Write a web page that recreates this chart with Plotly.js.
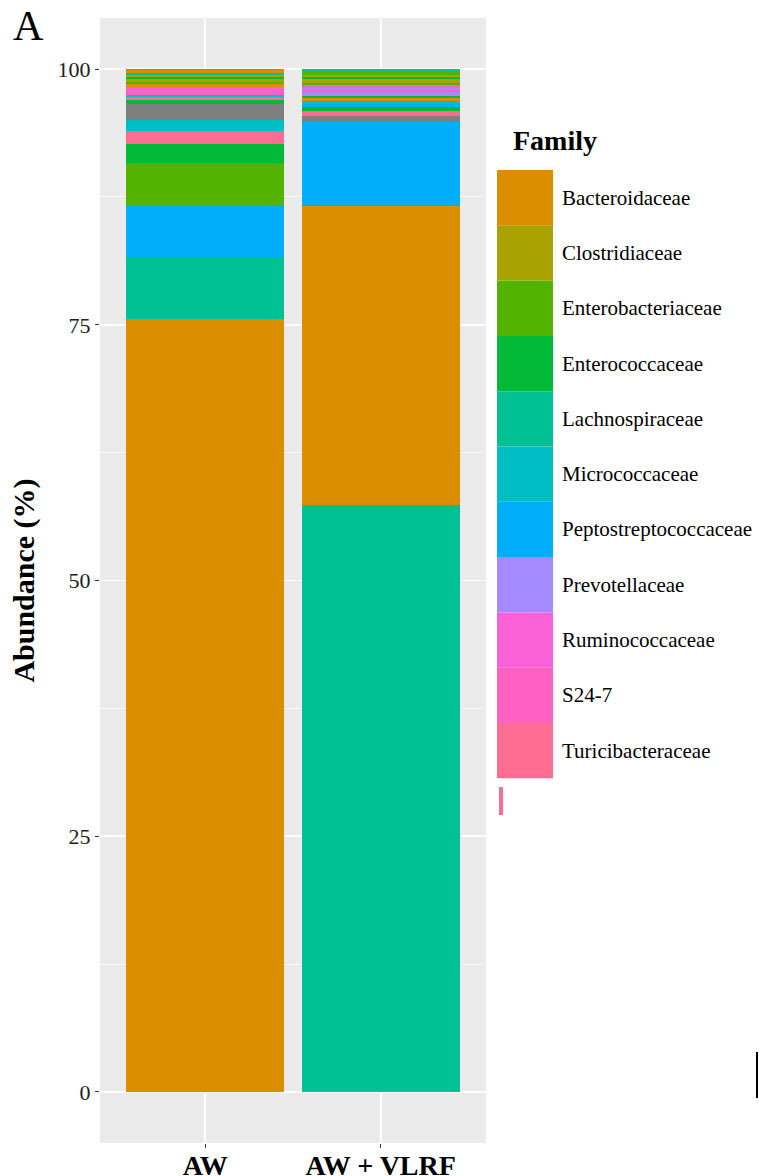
<!DOCTYPE html>
<html><head><meta charset="utf-8">
<script src="https://cdn.plot.ly/plotly-3.0.1.min.js"></script>
<style>html,body{margin:0;padding:0;background:#fff}</style>
</head><body><div id="chart" style="width:759px;height:1176px"></div>
<script>
// ---- data ----
const samples = ['AW', 'AW + VLRF'];
const families = ['Bacteroidaceae','Clostridiaceae','Enterobacteriaceae','Enterococcaceae','Lachnospiraceae','Micrococcaceae','Peptostreptococcaceae','Prevotellaceae','Ruminococcaceae','S24-7','Turicibacteraceae'];
const familyColors = ['#DB8E00','#AAA200','#53B400','#00BA38','#00C094','#00BFC4','#00AEFA','#A58AFF','#FB61D7','#FF61C3','#FF6C91'];
const naColor = '#7F7F7F';
// stacked segments, bottom to top (abundance %)
const awFamilies = ['Bacteroidaceae','Lachnospiraceae','Peptostreptococcaceae','Enterobacteriaceae','Enterococcaceae','Turicibacteraceae','Micrococcaceae','NA','Enterococcaceae','Turicibacteraceae','Micrococcaceae','S24-7','Ruminococcaceae','Bacteroidaceae','Enterobacteriaceae','Clostridiaceae','Enterococcaceae','Clostridiaceae','Lachnospiraceae','Bacteroidaceae','Micrococcaceae'];
const awValues   = [75.54, 6.1, 5.1, 4.1, 1.85, 1.25, 1.1, 1.6, 0.3, 0.35, 0.23, 0.25, 0.5, 0.3, 0.2, 0.23, 0.22, 0.2, 0.22, 0.23, 0.13];
const vlrfFamilies = ['Lachnospiraceae','Bacteroidaceae','Peptostreptococcaceae','NA','Turicibacteraceae','Enterococcaceae','Peptostreptococcaceae','Micrococcaceae','Bacteroidaceae','Enterococcaceae','Prevotellaceae','S24-7','Prevotellaceae','Ruminococcaceae','Enterobacteriaceae','Clostridiaceae','Enterococcaceae','Clostridiaceae','Enterobacteriaceae','Lachnospiraceae'];
const vlrfValues   = [57.4, 29.2, 8.2, 0.65, 0.5, 0.33, 0.33, 0.25, 0.33, 0.23, 0.3, 0.23, 0.25, 0.25, 0.22, 0.33, 0.22, 0.25, 0.33, 0.2];
const yTickVals = [0, 25, 50, 75, 100];
const yTickText = ['0', '25', '50', '75', '100'];

// ---- build ----
const colorOf = f => { const i = families.indexOf(f); return i < 0 ? naColor : familyColors[i]; };
const traces = [];
function addSample(sample, fams, vals) {
  fams.forEach((f, i) => {
    traces.push({
      type: 'bar', x: [sample], y: [vals[i]], name: f, width: 0.9,
      marker: { color: colorOf(f), line: { width: 0 } },
      showlegend: false, hoverinfo: 'name+y'
    });
  });
}
addSample(samples[0], awFamilies, awValues);
addSample(samples[1], vlrfFamilies, vlrfValues);

const W = 759, H = 1176, L = 100, R = 273, T = 18, B = 33;
const pw = W - L - R, ph = H - T - B;
const px = x => (x - L) / pw;
const py = y => (H - B - y) / ph;
const serif = 'Liberation Serif, Times New Roman, serif';

const shapes = [];
const annotations = [];
// manual legend (large ggplot-style keys)
const keyTop = 170, keyH = 55.3, keyX0 = 497, keyX1 = 553;
families.forEach((f, i) => {
  const y0 = keyTop + i * keyH, y1 = y0 + keyH;
  shapes.push({ type: 'rect', xref: 'paper', yref: 'paper', x0: px(keyX0), x1: px(keyX1), y0: py(y1), y1: py(y0),
    fillcolor: familyColors[i], line: { width: 0 }, layer: 'above' });
  annotations.push({ xref: 'paper', yref: 'paper', x: px(560), y: py((y0 + y1) / 2), xanchor: 'left', yanchor: 'middle',
    text: f, showarrow: false, font: { family: serif, size: 21, color: '#000' } });
});
// truncated next key sliver
shapes.push({ type: 'rect', xref: 'paper', yref: 'paper', x0: px(499), x1: px(503), y0: py(815), y1: py(787),
  fillcolor: '#FF6C91', line: { width: 0 } });
// cropped line at right edge
shapes.push({ type: 'line', xref: 'paper', yref: 'paper', x0: px(757), x1: px(757), y0: py(1098), y1: py(1052),
  line: { color: '#000', width: 2 } });
annotations.push({ xref: 'paper', yref: 'paper', x: px(511), y: py(141), xanchor: 'left', yanchor: 'middle',
  text: 'Family', showarrow: false, font: { family: serif, size: 28, color: '#000', weight: 'bold' } });
annotations.push({ xref: 'paper', yref: 'paper', x: px(11), y: py(26), xanchor: 'left', yanchor: 'middle',
  text: 'A', showarrow: false, font: { family: serif, size: 42, color: '#000' } });

const layout = {
  width: W, height: H,
  margin: { l: L, r: R, t: T, b: B, pad: 0 },
  paper_bgcolor: '#FFFFFF', plot_bgcolor: '#EBEBEB',
  barmode: 'stack', showlegend: false,
  font: { family: serif },
  xaxis: {
    type: 'category', range: [-0.6, 1.6], fixedrange: true,
    showgrid: true, gridcolor: '#FFFFFF', gridwidth: 1.6, zeroline: false, showline: false,
    ticks: 'outside', ticklen: 4, tickcolor: '#333333', tickwidth: 1,
    ticklabelstandoff: -7,
    tickfont: { family: serif, size: 28, color: '#000', weight: 'bold' }
  },
  yaxis: {
    range: [-5, 105], fixedrange: true,
    tickvals: yTickVals, ticktext: yTickText,
    showgrid: true, gridcolor: '#FFFFFF', gridwidth: 1.6, zeroline: false, showline: false,
    ticks: 'outside', ticklen: 4, tickcolor: '#333333', tickwidth: 1,
    tickfont: { family: serif, size: 22, color: '#222' },
    minor: { tickvals: [12.5, 37.5, 62.5, 87.5], showgrid: true, gridcolor: '#F7F7F7', gridwidth: 1, ticks: '' },
    title: { text: 'Abundance (%)', standoff: 14, font: { family: serif, size: 30, color: '#000', weight: 'bold' } }
  },
  shapes: shapes,
  annotations: annotations
};

Plotly.newPlot('chart', traces, layout, { displayModeBar: false, staticPlot: true });
</script>
</body></html>
